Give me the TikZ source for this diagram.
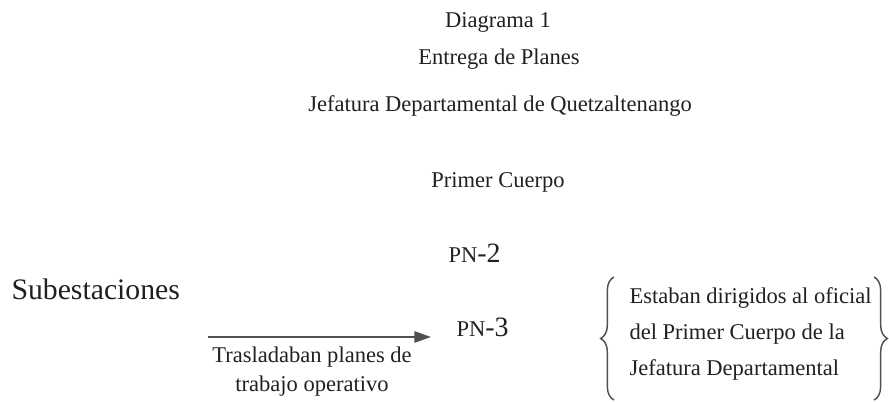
\documentclass[tikz,border=0pt]{standalone}
\usepackage{fontspec}
\setmainfont{Liberation Serif}
\usetikzlibrary{arrows.meta,decorations.pathreplacing}

\definecolor{ink}{RGB}{35,31,32}
\definecolor{lineGray}{RGB}{80,80,80}

\tikzset{every picture/.style={line width=0.75pt}}
\tikzset{
  txt/.style={inner sep=0.75pt, text=ink, font=\fontsize{16.9}{22}\selectfont},
  bigtxt/.style={inner sep=0.75pt, text=ink, font=\fontsize{22.3}{27}\selectfont},
  flow/.style={draw=lineGray, line width=1.2pt, -{Triangle[length=12.5pt,width=8.5pt]}},
  curly/.style={draw=lineGray, line width=1.1pt, decorate, decoration={brace, amplitude=10pt}}
}

\begin{document}
\begin{tikzpicture}[x=0.75pt,y=0.75pt,yscale=-1,xscale=1]
\useasboundingbox (0,0) rectangle (889,402);

% Text Node
\draw (498,28) node (diag) [anchor=base][txt] {Diagrama 1};
% Text Node
\draw (499,65) node (entrega) [anchor=base][txt] {Entrega de Planes};
% Text Node
\draw (500,112) node (jefatura) [anchor=base][txt] {Jefatura Departamental de Quetzaltenango};
% Text Node
\draw (498,188) node (cuerpo) [anchor=base][txt] {Primer Cuerpo};
% Text Node
\draw (447,263) node (pn2) [anchor=base west][txt] {PN\fontsize{21}{24}\selectfont-2};
% Text Node
\draw (455,337) node (pn3) [anchor=base west][txt] {PN\fontsize{21}{24}\selectfont-3};
% Text Node
\draw (10,300) node (subest) [anchor=base west][bigtxt] {Subestaciones};
% Text Node
\draw (312,392) node (traslado) [anchor=base][txt] [align=center] {Trasladaban planes de\\trabajo operativo};
% Text Node
\draw (628,376) node (nota) [anchor=base west][txt] [font=\fontsize{16.9}{27}\selectfont] [align=left] {Estaban dirigidos al oficial\\del Primer Cuerpo de la\\Jefatura Departamental};

%Straight Lines
\coordinate (tail) at (208,337);
\draw [flow, shorten >=18pt] (tail) -- (pn3.base west);

%Braces
\draw [curly] (614,400) -- (614,277);
\draw [curly] (874,277) -- (874,400);

\end{tikzpicture}
\end{document}
